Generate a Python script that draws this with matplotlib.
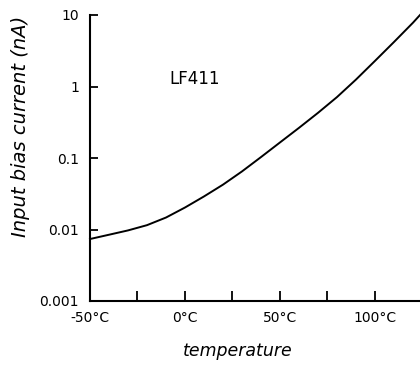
import matplotlib
matplotlib.use("Agg")
import matplotlib.pyplot as plt

# Input bias current of the LF411 versus temperature
temperature_c = [-50, -40, -30, -20, -10, 0, 10, 20, 30, 40, 50, 60, 70, 80, 90, 100, 110, 120, 123.7]
bias_current_na = [0.00736, 0.00845, 0.00971, 0.0115, 0.0147, 0.0203, 0.0290, 0.0424,
                   0.0649, 0.103, 0.165, 0.264, 0.428, 0.711, 1.25, 2.28, 4.19, 7.80, 10.0]

x_ticks = [-50, -25, 0, 25, 50, 75, 100]
x_tick_labels = ["-50°C", "", "0°C", "", "50°C", "", "100°C"]
y_ticks = [0.001, 0.01, 0.1, 1, 10]
y_tick_labels = ["0.001", "0.01", "0.1", "1", "10"]

plt.rcParams["font.family"] = ["DejaVu Sans"]

fig = plt.figure(figsize=(4.2, 3.67), dpi=100)
ax = fig.add_axes([90 / 420, 66 / 367, 330 / 420, 286 / 367])

ax.plot(temperature_c, bias_current_na, color="black", lw=1.4, clip_on=False)

ax.set_yscale("log")
ax.set_xlim(-50, 123.7)
ax.set_ylim(0.001, 10)

ax.set_xticks(x_ticks)
ax.set_xticklabels(x_tick_labels)
ax.set_yticks(y_ticks)
ax.set_yticklabels(y_tick_labels)
ax.minorticks_off()

for side in ("top", "right"):
    ax.spines[side].set_visible(False)
for side in ("left", "bottom"):
    ax.spines[side].set_linewidth(1.5)

ax.tick_params(axis="x", direction="in", length=7, width=1.3, pad=7, labelsize=10)
ax.tick_params(axis="y", direction="in", length=5.5, width=1.3, pad=8, labelsize=10)

ax.set_xlabel("temperature", fontsize=12.5, style="italic")
ax.xaxis.set_label_coords(0.448, -0.145)
ax.set_ylabel("Input bias current (nA)", fontsize=14, style="italic")
ax.yaxis.set_label_coords(-0.183, 0.612)

ax.text(5.3, 1.27, "LF411", fontsize=12, ha="center", va="center")

fig.savefig("out.png", dpi=100)
